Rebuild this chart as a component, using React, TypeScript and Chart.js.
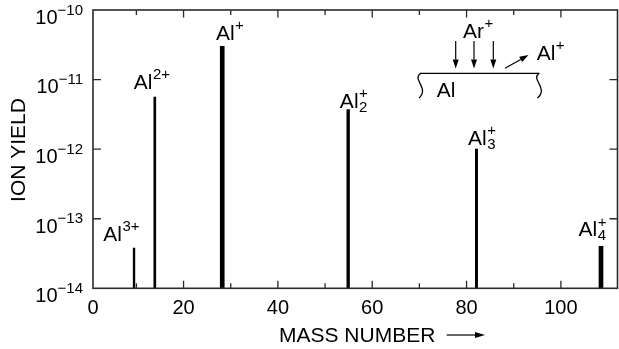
import React, { useEffect, useRef } from 'react';
import { Chart, registerables } from 'chart.js';

Chart.register(...registerables);

const FONT = '"Liberation Sans", Arimo, Arial, Helvetica, sans-serif';

// ---- data ----
const ionBase = ['Al', 'Al', 'Al', 'Al', 'Al', 'Al'];
const ionSup = ['3+', '2+', '+', '+', '+', '+'];
const ionSub = ['', '', '', '2', '3', '4'];
const massNumbers = [9.5, 13.9, 28.2, 54.9, 82.1, 108.5];
const ionYields = [3.8e-14, 5.6e-12, 3.0e-11, 3.7e-12, 1.0e-12, 4.0e-14];

const xTickValues = [0, 10, 20, 30, 40, 50, 60, 70, 80, 90, 100];
const xTickLabels = ['0', '', '20', '', '40', '', '60', '', '80', '', '100'];
const yTickExponents = [-14, -13, -12, -11, -10];

const X_MIN = 0.8;
const X_MAX = 112;
const Y_MIN = 1e-14;
const Y_MAX = 1e-10;

const xTitle = 'MASS NUMBER';
const yTitle = 'ION YIELD';

// ---- styles ----
const barWidths = [1.7, 2, 4, 2.7, 2.3, 4];
const labelOffsets: [number, number][] = [
  [-30.7, 6.6],
  [-21, 8],
  [-6.3, 6.3],
  [-8.3, 2],
  [-8.4, 4.3],
  [-22.4, 10],
];
const AXIS_COLOR = '#2a2a2a';

function drawIon(
  ctx: CanvasRenderingContext2D,
  left: number,
  baseline: number,
  base: string,
  sup: string,
  sub: string,
  size: number
) {
  ctx.textAlign = 'left';
  ctx.textBaseline = 'alphabetic';
  ctx.font = `${size}px ${FONT}`;
  ctx.fillText(base, left, baseline);
  const w = ctx.measureText(base).width;
  const small = Math.round(size * 0.72);
  ctx.font = `${small}px ${FONT}`;
  const sx = left + w + 0.5;
  if (sup) ctx.fillText(sup, sx, baseline - size * 0.47);
  if (sub) ctx.fillText(sub, sx, baseline + 4);
}

function arrow(
  ctx: CanvasRenderingContext2D,
  x1: number,
  y1: number,
  x2: number,
  y2: number,
  head = 8,
  half = 3
) {
  const ang = Math.atan2(y2 - y1, x2 - x1);
  const bx = x2 - head * Math.cos(ang);
  const by = y2 - head * Math.sin(ang);
  ctx.beginPath();
  ctx.moveTo(x1, y1);
  ctx.lineTo(bx, by);
  ctx.stroke();
  ctx.beginPath();
  ctx.moveTo(x2, y2);
  ctx.lineTo(bx + half * Math.sin(ang), by - half * Math.cos(ang));
  ctx.lineTo(bx - half * Math.sin(ang), by + half * Math.cos(ang));
  ctx.closePath();
  ctx.fill();
}

const decorPlugin = {
  id: 'decor',
  afterDatasetsDraw(chart: any) {
    const { ctx, chartArea: a, scales } = chart;
    const xs = scales.x;
    const ys = scales.y;
    ctx.save();
    ctx.fillStyle = '#000';
    ctx.strokeStyle = AXIS_COLOR;

    // frame
    ctx.lineWidth = 1.6;
    ctx.strokeRect(a.left, a.top, a.right - a.left, a.bottom - a.top);

    // x ticks (inward, top & bottom)
    ctx.lineWidth = 1.3;
    xTickValues.forEach((v, i) => {
      const px = xs.getPixelForValue(Math.max(v, X_MIN));
      const len = v % 20 === 0 ? 7.5 : 5;
      if (v > X_MIN) {
        ctx.beginPath();
        ctx.moveTo(px, a.bottom);
        ctx.lineTo(px, a.bottom - len);
        ctx.moveTo(px, a.top);
        ctx.lineTo(px, a.top + len);
        ctx.stroke();
      }
      const lab = xTickLabels[i];
      if (lab) {
        ctx.font = `20px ${FONT}`;
        ctx.textAlign = 'center';
        ctx.textBaseline = 'alphabetic';
        ctx.fillText(lab, px, a.bottom + 25.3);
      }
    });

    // y ticks (inward, left & right) and labels
    yTickExponents.forEach((e) => {
      const py = ys.getPixelForValue(Math.pow(10, e));
      if (e > -14 && e < -10) {
        ctx.beginPath();
        ctx.moveTo(a.left, py);
        ctx.lineTo(a.left + 8, py);
        ctx.moveTo(a.right, py);
        ctx.lineTo(a.right - 8, py);
        ctx.stroke();
      }
      const rightEdge = a.left - 10;
      ctx.textAlign = 'right';
      ctx.textBaseline = 'alphabetic';
      ctx.font = `15px ${FONT}`;
      const supTxt = '\u2212' + String(-e);
      ctx.fillText(supTxt, rightEdge, py + 4.7);
      const sw = ctx.measureText(supTxt).width;
      ctx.font = `20px ${FONT}`;
      ctx.fillText('10', rightEdge - sw, py + 13.8);
    });

    // axis titles
    ctx.font = `21px ${FONT}`;
    ctx.textAlign = 'left';
    ctx.textBaseline = 'alphabetic';
    ctx.fillText(xTitle, 279, 341.7);
    ctx.strokeStyle = '#000';
    ctx.lineWidth = 1.2;
    arrow(ctx, 446.7, 335, 485, 335, 10, 3);

    ctx.save();
    ctx.translate(25, 150);
    ctx.rotate(-Math.PI / 2);
    ctx.textAlign = 'center';
    ctx.fillText(yTitle, 0, 0);
    ctx.restore();

    // ion labels above bars
    massNumbers.forEach((m, i) => {
      const bx = xs.getPixelForValue(m);
      const by = ys.getPixelForValue(ionYields[i]);
      const [dx, dy] = labelOffsets[i];
      drawIon(ctx, bx + dx, by - dy, ionBase[i], ionSup[i], ionSub[i], 21);
    });

    // inset schematic
    ctx.strokeStyle = '#000';
    ctx.fillStyle = '#000';
    ctx.lineWidth = 1.2;
    [455.7, 474, 493.3].forEach((x) => arrow(ctx, x, 41, x, 68.5, 9, 3));
    arrow(ctx, 505, 68.3, 528.5, 55, 9, 3);
    drawIon(ctx, 463, 38, 'Ar', '+', '', 21);
    drawIon(ctx, 536.7, 60, 'Al', '+', '', 21);
    ctx.font = `21px ${FONT}`;
    ctx.textAlign = 'left';
    ctx.fillText('Al', 436.7, 97);
    ctx.lineWidth = 1.3;
    ctx.beginPath();
    ctx.moveTo(420, 73.3);
    ctx.lineTo(539.3, 73.3);
    ctx.stroke();
    ctx.beginPath();
    ctx.moveTo(421, 73.3);
    ctx.bezierCurveTo(411, 79, 430, 88, 419, 98);
    ctx.stroke();
    ctx.beginPath();
    ctx.moveTo(539.3, 73.3);
    ctx.bezierCurveTo(530, 79, 549, 88, 537.5, 98);
    ctx.stroke();

    ctx.restore();
  },
};

export default function App() {
  const canvasRef = useRef<HTMLCanvasElement | null>(null);

  useEffect(() => {
    const canvas = canvasRef.current;
    if (!canvas) return;
    const chart = new Chart(canvas, {
      type: 'bar',
      data: {
        datasets: massNumbers.map((m, i) => ({
          label: ionBase[i] + ionSub[i] + ionSup[i],
          data: [{ x: m, y: ionYields[i] }],
          backgroundColor: '#000',
          borderWidth: 0,
          barThickness: barWidths[i],
          grouped: false,
        })),
      },
      options: {
        responsive: false,
        devicePixelRatio: 1,
        animation: false,
        layout: { padding: { left: 93, right: 1.5, top: 10, bottom: 60.7 } },
        scales: {
          x: { type: 'linear', min: X_MIN, max: X_MAX, display: false, offset: false },
          y: { type: 'logarithmic', min: Y_MIN, max: Y_MAX, display: false },
        },
        plugins: {
          legend: { display: false },
          tooltip: { enabled: false },
        },
      },
      plugins: [decorPlugin],
    } as any);
    return () => chart.destroy();
  }, []);

  return (
    <div style={{ position: 'fixed', left: 0, top: 0, width: 619, height: 349, background: '#fff' }}>
      <canvas ref={canvasRef} width={619} height={349} style={{ display: 'block' }} />
    </div>
  );
}
